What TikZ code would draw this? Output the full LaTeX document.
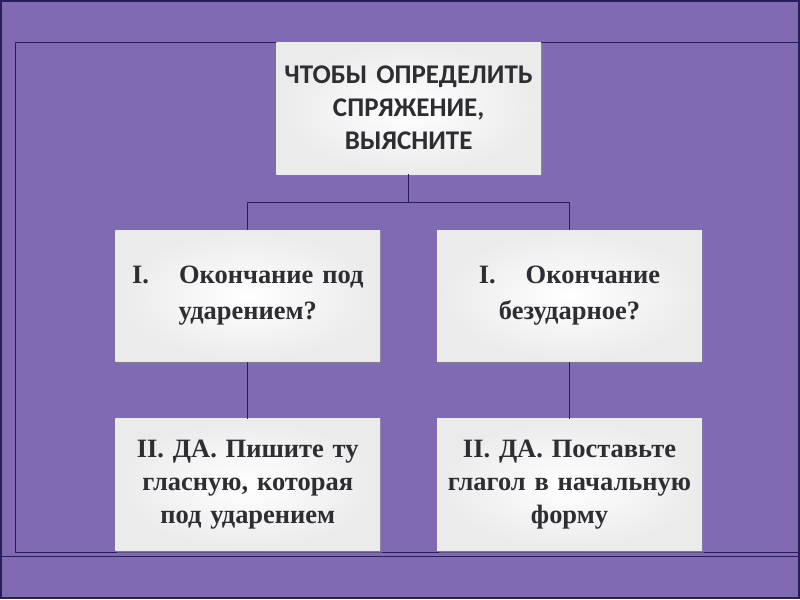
\documentclass[tikz,border=0pt]{standalone}
\usepackage{fontspec}
\setmainfont{Liberation Serif}
\newfontfamily\boxsans{Carlito}
\usetikzlibrary{shadows}
\definecolor{bg}{RGB}{128,106,178}
\definecolor{frame}{RGB}{40,30,90}
\definecolor{txt}{RGB}{45,45,50}
\tikzset{
  card/.style={draw=none, minimum width=265pt, minimum height=132pt, inner color=white, outer color=black!8,
    drop shadow={shadow xshift=2pt, shadow yshift=-2pt, fill=black!50, opacity=0.6},
    text=txt, align=center, text width=258pt, anchor=north west},
  link/.style={draw=frame, line width=1pt}
}
\begin{document}
\begin{tikzpicture}[x=1pt,y=-1pt]
\fill[bg] (0,0) rectangle (800,600);
\draw[frame, line width=2pt] (1,1) rectangle (799,599);
\draw[frame, line width=0.8pt] (15,42) rectangle (800,553);
\draw[frame, line width=0.6pt] (0,557) -- (800,557);
\node[card, font=\boxsans\bfseries\fontsize{27}{33}\selectfont] (top) at (276,42) {ЧТОБЫ ОПРЕДЕЛИТЬ\\СПРЯЖЕНИЕ,\\ВЫЯСНИТЕ};
\node[card, font=\bfseries\fontsize{26.5}{36}\selectfont] (ml) at (115,230) {I.\hspace{0.8em} Окончание под\\ударением?\\[4pt]};
\node[card, font=\bfseries\fontsize{26.5}{36}\selectfont] (mr) at (437,230) {I.\hspace{0.8em} Окончание\\безударное?\\[4pt]};
\node[card, font=\bfseries\fontsize{26.5}{33}\selectfont] (bl) at (115,419) {II. ДА. Пишите ту\\гласную, которая\\под ударением};
\node[card, font=\bfseries\fontsize{26.5}{33}\selectfont] (br) at (437,419) {II. ДА. Поставьте\\глагол в начальную\\форму};
\coordinate (j) at ([yshift=-28pt]top.south);
\draw[link] (top.south) -- (j) -- (j -| ml.north) -- (ml.north);
\draw[link] (j) -- (j -| mr.north) -- (mr.north);
\draw[link] (ml.south) -- (bl.north);
\draw[link] (mr.south) -- (br.north);
\end{tikzpicture}
\end{document}
